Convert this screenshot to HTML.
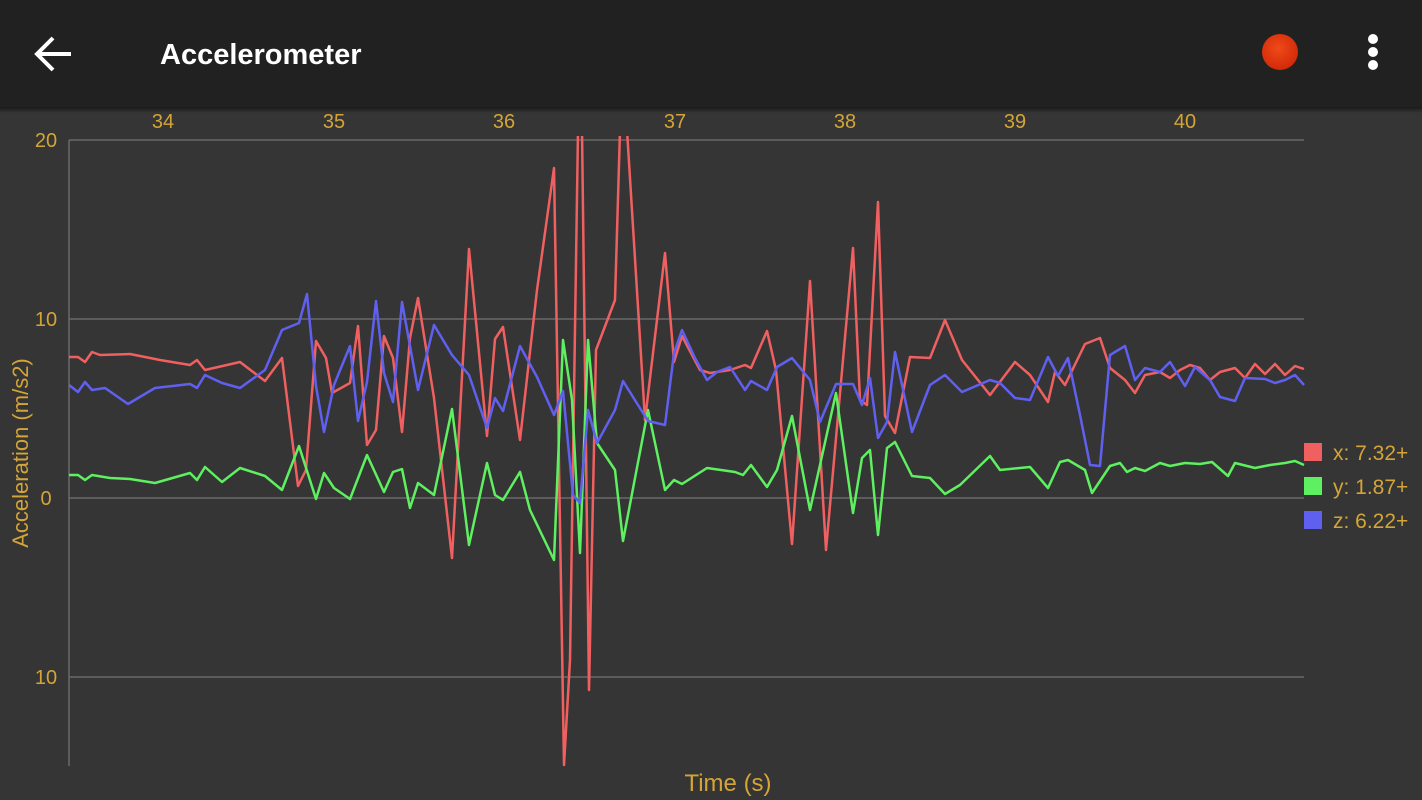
<!DOCTYPE html>
<html><head><meta charset="utf-8"><style>
html,body{margin:0;padding:0;width:1422px;height:800px;overflow:hidden;background:#353535;font-family:"Liberation Sans",sans-serif}
</style></head><body>
<svg width="1422" height="800" xmlns="http://www.w3.org/2000/svg" style="position:absolute;left:0;top:0">
<defs><clipPath id="c"><rect x="69" y="136" width="1236" height="632"/></clipPath>
<linearGradient id="sh" x1="0" y1="0" x2="0" y2="1"><stop offset="0" stop-color="#1a1a1a"/><stop offset="1" stop-color="#353535"/></linearGradient>
<radialGradient id="rd" cx="0.45" cy="0.4" r="0.6"><stop offset="0" stop-color="#f04a1a"/><stop offset="1" stop-color="#d22a08"/></radialGradient></defs>
<rect width="1422" height="800" fill="#353535"/>
<rect width="1422" height="107" fill="#212121"/>
<rect y="107" width="1422" height="6" fill="url(#sh)"/>
<path d="M38 54 H71 M53 38 L37 54 L53 70" stroke="#fff" stroke-width="4" fill="none"/>
<text x="160" y="64" fill="#fff" font-size="29" font-weight="bold">Accelerometer</text>
<circle cx="1280" cy="52" r="18" fill="url(#rd)"/>
<circle cx="1373" cy="39" r="5" fill="#fff"/><circle cx="1373" cy="52" r="5" fill="#fff"/><circle cx="1373" cy="65" r="5" fill="#fff"/>
<g stroke="#6a6a6a" stroke-width="1.5">
<line x1="69" y1="140" x2="1304" y2="140"/><line x1="69" y1="319" x2="1304" y2="319"/>
<line x1="69" y1="498" x2="1304" y2="498"/><line x1="69" y1="677" x2="1304" y2="677"/>
<line x1="69" y1="140" x2="69" y2="766"/></g>
<g fill="#d4a536" font-size="20" text-anchor="middle">
<text x="163" y="128">34</text><text x="334" y="128">35</text><text x="504" y="128">36</text><text x="675" y="128">37</text><text x="845" y="128">38</text><text x="1015" y="128">39</text><text x="1185" y="128">40</text>
<text x="46" y="147">20</text><text x="46" y="326">10</text><text x="46" y="505">0</text><text x="46" y="684">10</text>
<text x="728" y="791" font-size="24">Time (s)</text>
<text transform="translate(28,453) rotate(-90)" font-size="22">Acceleration (m/s2)</text>
</g>
<g clip-path="url(#c)" fill="none" stroke-width="2.5" stroke-linejoin="round">
<polyline stroke="#f06060" points="69,357 78,357 85,362 92,352 100,355 130,354 160,360 190,365 197,360 205,370 240,362 265,381 282,358 298,486 306,470 316,341 326,358 332,393 350,383 358,326 367,445 376,430 384,336 393,358 402,432 410,338 418,298 434,398 452,558 469,249 487,436 495,339 503,327 520,440 537,290 554,168 564,765 570,660 578,130 582,130 589,690 596,350 615,300 620,130 627,130 645,420 665,253 674,362 682,336 700,370 710,373 730,370 745,365 751,368 767,331 776,370 792,544 810,281 826,550 853,248 860,400 867,405 878,202 885,416 895,433 910,357 930,358 945,320 962,360 990,395 1015,362 1030,375 1048,402 1055,372 1065,385 1085,344 1100,338 1110,368 1125,380 1135,393 1145,375 1160,372 1170,378 1180,370 1190,365 1200,368 1210,380 1220,372 1235,368 1245,378 1255,364 1265,374 1275,364 1285,375 1295,366 1304,369"/>
<polyline stroke="#5ef060" points="69,475 78,475 85,480 92,475 110,478 130,479 155,483 190,473 197,480 205,467 222,482 240,468 265,476 282,490 299,446 316,499 324,473 334,488 350,499 367,455 384,492 393,472 402,469 410,508 418,483 434,495 452,409 469,545 487,463 495,495 503,500 520,472 530,510 554,560 563,340 572,400 580,553 588,340 597,443 615,470 623,541 648,410 665,490 674,480 682,484 707,468 735,472 743,475 751,465 767,487 777,470 792,416 810,510 836,393 853,513 862,458 870,450 878,535 887,448 895,442 912,476 930,478 945,494 960,485 990,456 1000,470 1030,467 1048,488 1060,462 1068,460 1085,470 1092,493 1110,466 1120,463 1127,472 1135,468 1145,471 1160,463 1170,466 1185,463 1200,464 1212,462 1228,476 1235,463 1255,468 1270,465 1285,463 1295,461 1304,465"/>
<polyline stroke="#6060f0" points="69,385 78,392 85,382 92,390 105,388 128,404 155,388 190,384 197,388 205,375 222,383 240,388 265,370 282,330 299,323 307,294 316,386 324,432 334,385 350,346 358,421 367,382 376,301 384,373 393,402 402,302 418,390 434,325 452,355 469,375 487,428 495,398 503,411 520,346 537,377 554,415 563,391 573,495 580,503 588,410 597,443 615,410 623,381 648,421 665,425 674,353 682,330 695,358 707,380 717,372 730,367 745,390 751,381 767,390 777,367 792,358 810,380 820,422 836,384 853,384 862,405 870,378 878,438 887,422 895,352 912,432 930,385 945,375 962,392 990,380 1000,383 1015,398 1030,400 1048,357 1058,376 1068,358 1080,415 1090,465 1100,466 1110,355 1125,346 1135,380 1145,368 1160,372 1170,362 1185,386 1195,367 1210,380 1220,397 1235,401 1245,378 1265,379 1275,383 1285,380 1295,375 1304,385"/>
</g>
<rect x="1304" y="443" width="18" height="18" fill="#f06060"/>
<rect x="1304" y="477" width="18" height="18" fill="#5ef060"/>
<rect x="1304" y="511" width="18" height="18" fill="#6060f0"/>
<g fill="#d4a536" font-size="21">
<text x="1333" y="460">x: 7.32+</text><text x="1333" y="494">y: 1.87+</text><text x="1333" y="528">z: 6.22+</text>
</g>
</svg>
</body></html>
